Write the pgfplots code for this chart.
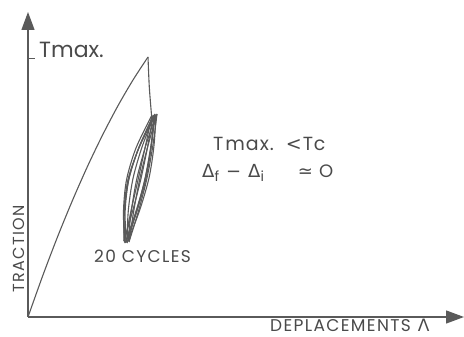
\documentclass[border=0pt]{standalone}
\usepackage{fontspec}
\setmainfont{Poppins}
\newfontfamily\symfont{DejaVu Sans}
\newfontfamily\widefont[LetterSpace=8]{Poppins}
\newfontfamily\midfont[LetterSpace=5]{Poppins}
\usepackage{pgfplots}
\pgfplotsset{compat=1.18}
\usetikzlibrary{arrows.meta}
\definecolor{ink}{HTML}{5A5A5A}
\definecolor{txt}{HTML}{4A4A4A}

\begin{document}
\begin{tikzpicture}[
    trace/.style={ink, line width=1.1pt},
    lbl/.style={text=txt, inner sep=0pt},
  ]
  \begin{axis}[
    at={(0pt,0pt)}, anchor=south west,
    scale only axis, width=436pt, height=305pt,
    xmin=0, xmax=436, ymin=0, ymax=305,
    axis lines=left,
    axis line style={ink, line width=1.3pt, -{Triangle[length=18pt,width=13pt]}},
    xtick=\empty, ytick=\empty,
    extra y ticks={258}, extra y tick labels={},
    tick align=inside,
    extra y tick style={major tick length=7pt, tick style={ink, line width=1pt}},
    clip=false,
  ]
    % first loading up to Tmax
    \addplot[trace, smooth, no markers] coordinates {
      (0,0) (15,42) (30,81.3) (45,117.8) (60,151.7) (75,182.8) (90,211.3) (105,237) (120,260)};
    % drop after the peak
    \addplot[trace, smooth, no markers] coordinates {(120,260) (121.3,230) (123.5,202)};

    % cycles: left branch going down, right branch going up
    \addplot[trace, smooth, no markers] coordinates {(126,202) (111.2,170) (101,138.5) (97.2,106.8) (98,75)};
    \addplot[trace, smooth, no markers] coordinates {(98,75) (109.2,106.8) (118,138.5) (123.2,170) (126,202)};
    \addplot[trace, smooth, no markers] coordinates {(127,203) (114.3,170.8) (105,138.5) (100.3,106.3) (99,74)};
    \addplot[trace, smooth, no markers] coordinates {(99,74) (108.8,106.3) (117,138.5) (122.8,170.8) (127,203)};
    \addplot[trace, smooth, no markers] coordinates {(128,202) (117.5,170.5) (109,139) (103.5,107.5) (100,76)};
    \addplot[trace, smooth, no markers] coordinates {(100,76) (111.9,107.5) (121,139) (125.9,170.5) (128,202)};
    \addplot[trace, smooth, no markers] coordinates {(125,201) (111,169.8) (101,138.5) (96.5,107.3) (96,76)};
    \addplot[trace, smooth, no markers] coordinates {(96,76) (105,107.3) (113,138.5) (119.5,169.8) (125,201)};
    \addplot[trace, smooth, no markers] coordinates {(129,203) (119.9,171) (112,139) (105.9,107) (101,75)};
    \addplot[trace, smooth, no markers] coordinates {(101,75) (110.8,107) (119,139) (124.8,171) (129,203)};
    \addplot[trace, smooth, no markers] coordinates {(127,201) (111,169.3) (100,137.5) (96,105.8) (97,74)};
    \addplot[trace, smooth, no markers] coordinates {(97,74) (108,105.8) (117,137.5) (123,169.3) (127,201)};
    \addplot[trace, smooth, no markers] coordinates {(124,202) (108,169) (98.5,137) (95.5,106) (96.5,75)};
    \addplot[trace, smooth, no markers] coordinates {(96.5,75) (103,106) (110,137) (117,169) (124,202)};

    \node[lbl, anchor=base west, font=\fontsize{22}{22}\selectfont] at (axis cs:11,259) {Tmax.};
    \node[lbl, anchor=base west, font=\midfont\fontsize{19}{19}\selectfont] at (axis cs:185,166)
      {T\hspace{2pt}max.\hspace{12pt}{\symfont <}\hspace{1pt}Tc};
    \node[lbl, anchor=base west, font=\fontsize{18}{18}\selectfont] at (axis cs:174,139)
      {{\symfont Δ}\raisebox{-4pt}{\fontsize{14}{14}\selectfont f}\hspace{7pt}{\symfont −}\hspace{7pt}{\symfont Δ}\raisebox{-4pt}{\fontsize{14}{14}\selectfont i}\hspace{34pt}{\symfont ≃}\hspace{6pt}O};
    \node[lbl, anchor=base west, font=\widefont\fontsize{17}{17}\selectfont] at (axis cs:66,54) {20 CYCLES};
    \node[lbl, anchor=base, rotate=90, font=\widefont\fontsize{16}{16}\selectfont] at (axis cs:-3,68) {TRACTION};
    \node[lbl, anchor=base west, font=\widefont\fontsize{17}{17}\selectfont] at (axis cs:242,-14.5) {DEPLACEMENTS\hspace{7pt}{\symfont Λ}};
  \end{axis}
  \pgfresetboundingbox
  \path (-28pt,-20pt) rectangle (436pt,317pt);
\end{tikzpicture}
\end{document}
